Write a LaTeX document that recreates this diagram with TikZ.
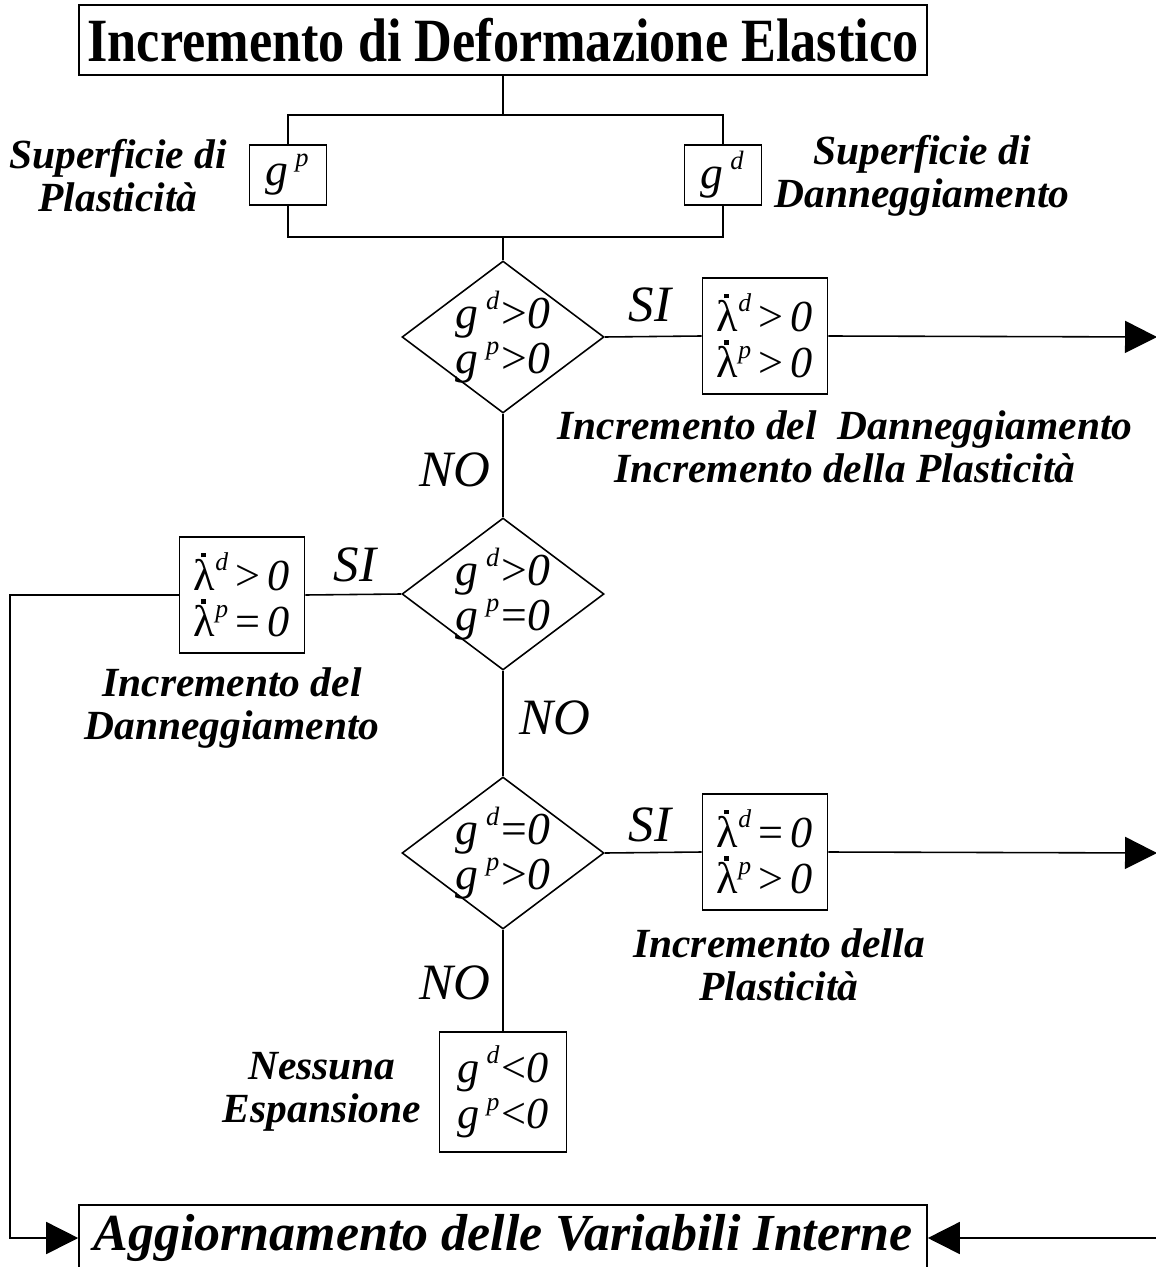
\documentclass[tikz,border=0pt]{standalone}
\usepackage{fontspec}
\setmainfont{Liberation Serif}
\newfontfamily\narrowfont[FakeStretch=0.85]{Liberation Serif}
\usepackage{graphicx}
\usetikzlibrary{shapes.geometric,arrows.meta}

\newcommand\dlam{\leavevmode\rlap{\kern0.17em\raisebox{0.74em}{\rule{0.1em}{0.1em}}}λ}
\newcommand\gcond[3]{\textit{g}\kern0.16em\raisebox{0.42em}{\scalebox{0.58}{\itshape #1}}\kern0.05em#2\textit{#3}}
\newcommand\lcond[3]{\dlam\raisebox{0.44em}{\scalebox{0.58}{\itshape #1}}\,#2\,\textit{#3}}

\begin{document}
\begin{tikzpicture}[x=0.1mm,y=-0.1mm,line width=0.45pt,
    titlebox/.style={draw, minimum width=84.8mm, inner sep=0pt},
    smallbox/.style={draw, minimum width=7.7mm, minimum height=6mm, inner sep=0pt, font=\fontsize{13}{13}\selectfont},
    lambox/.style={draw, minimum width=12.5mm, minimum height=11.6mm, inner sep=0pt, align=center, font=\fontsize{12.6}{13.2}\selectfont},
    cond/.style={draw, diamond, minimum width=20.2mm, minimum height=15.2mm, inner sep=0pt},
    condtext/.style={align=center, inner sep=0pt, font=\fontsize{13}{12.8}\selectfont},
    answer/.style={font=\itshape\fontsize{14.5}{14.5}\selectfont},
    remark/.style={align=center, font=\bfseries\itshape\fontsize{11.8}{12.2}\selectfont},
    flow/.style={-{Triangle[length=3.2mm,width=3.2mm]}}]
    \useasboundingbox (0,0) rectangle (1155,1267);

    \node[titlebox, minimum height=7mm, font=\narrowfont\bfseries\fontsize{17.5}{17.5}\selectfont] (title) at (503,40) {Incremento di Deformazione Elastico};
    \node[titlebox, minimum height=6.6mm, font=\bfseries\itshape\fontsize{14.8}{14.8}\selectfont] (update) at (503,1238) {Aggiornamento delle Variabili Interne};

    \node[smallbox] (gp) at (288,175) {\gcond{p}{}{}};
    \node[smallbox] (gd) at (723,175) {\gcond{d}{}{}};
    \node[remark] (surfP) at (118,176) {Superficie di\\Plasticità};
    \node[remark] (surfD) at (922,176) {Superficie di\\Danneggiamento};
    \coordinate (split) at (503,115);
    \coordinate (join) at (503,237);

    \node[cond, label={[condtext]center:{\gcond{d}{>}{0}\\\gcond{p}{>}{0}}}] (dA) at (503,337) {};
    \node[lambox] (lamA) at (765,336) {\lcond{d}{>}{0}\\\lcond{p}{>}{0}};
    \node[answer] (siA) at (650,305) {SI};
    \node[remark] (noteA) at (845,447) {Incremento del\ \ Danneggiamento\\Incremento della Plasticità};
    \node[answer] (noA) at (455,470) {NO};

    \node[cond, label={[condtext]center:{\gcond{d}{>}{0}\\\gcond{p}{=}{0}}}] (dB) at (503,594) {};
    \node[lambox] (lamB) at (242,595) {\lcond{d}{>}{0}\\\lcond{p}{=}{0}};
    \node[answer] (siB) at (355,565) {SI};
    \node[remark] (noteB) at (232,708) {Incremento del\\Danneggiamento};
    \node[answer] (noB) at (555,718) {NO};

    \node[cond, label={[condtext]center:{\gcond{d}{=}{0}\\\gcond{p}{>}{0}}}] (dC) at (503,853) {};
    \node[lambox] (lamC) at (765,852) {\lcond{d}{=}{0}\\\lcond{p}{>}{0}};
    \node[answer] (siC) at (650,825) {SI};
    \node[remark] (noteC) at (779,965) {Incremento della\\Plasticità};
    \node[answer] (noC) at (455,983) {NO};

    \node[lambox, minimum width=12.7mm, minimum height=12mm] (none) at (503,1092) {\gcond{d}{<}{0}\\\gcond{p}{<}{0}};
    \node[remark] (noteD) at (322,1092) {Nessuna\\Espansione};

    \coordinate (outA) at (1157,337);
    \coordinate (outC) at (1157,853);
    \coordinate (inR) at (1160,1238);
    \coordinate (back) at (10,1238);

    \draw (title) -- (split);
    \draw (gp.north) |- (split) -| (gd.north);
    \draw (gp.south) |- (join) -| (gd.south);
    \draw (join) -- (dA.north);
    \draw (dA.east) -- (lamA.west);
    \draw[flow] (lamA.east) -- (outA);
    \draw (dA.south) -- (dB.north);
    \draw (dB.west) -- (lamB.east);
    \draw[flow] (lamB.west) -| (back) -- (update.west);
    \draw (dB.south) -- (dC.north);
    \draw (dC.east) -- (lamC.west);
    \draw[flow] (lamC.east) -- (outC);
    \draw (dC.south) -- (none.north);
    \draw[flow] (inR) -- (update.east);
\end{tikzpicture}
\end{document}
